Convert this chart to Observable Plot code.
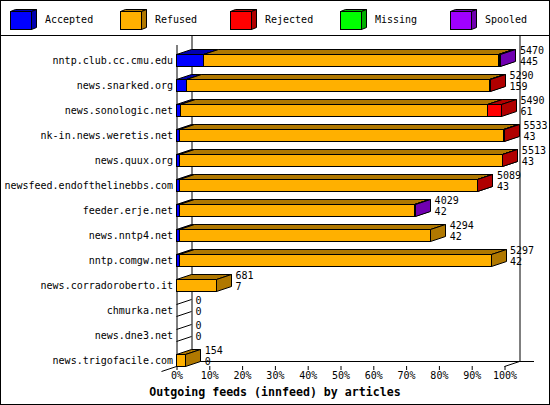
<!DOCTYPE html>
<html>
<head>
<meta charset="utf-8">
<script src="https://cdn.jsdelivr.net/npm/d3@7"></script>
<script src="https://cdn.jsdelivr.net/npm/@observablehq/plot@0.6"></script>
<style>
  html, body { margin: 0; padding: 0; background: white; }
  #frame { position: relative; width: 550px; height: 405px; box-sizing: border-box; border: 1px solid #000; background: #fff; font-family: "DejaVu Sans Mono", monospace; }
  #legend { position: relative; height: 34px; border-bottom: 1px solid #000; }
  .item { position: absolute; top: 0; height: 34px; }
  .item svg { position: absolute; left: 0; top: 5px; }
  .item span { position: absolute; left: 37px; top: 13px; font-size: 10px; line-height: 12px; color: #000; white-space: nowrap; }
  #chart svg { display: block; }
  #caption { height: 20px; line-height: 16px; text-align: center; font-weight: bold; font-size: 11.6px; color: #000; }
</style>
</head>
<body>
<div id="frame">
  <div id="legend"></div>
  <div id="chart"></div>
  <div id="caption"></div>
</div>
<script>
// ---- data ----
const hosts = [
  "nntp.club.cc.cmu.edu", "news.snarked.org", "news.sonologic.net", "nk-in.news.weretis.net",
  "news.quux.org", "newsfeed.endofthelinebbs.com", "feeder.erje.net", "news.nntp4.net",
  "nntp.comgw.net", "news.corradoroberto.it", "chmurka.net", "news.dne3.net", "news.trigofacile.com"
];
const statuses = ["Accepted", "Refused", "Rejected", "Missing", "Spooled"];
const frontColors = ["#0000ff", "#ffb000", "#ff0000", "#00ff00", "#a000ff"];
const darkColors  = ["#0000b0", "#b07800", "#b00000", "#00b000", "#7000b0"];

// percentages of offered articles
const accepted = [8.1, 3.0, 1.1, 0.8, 0.8, 0.8, 1.0, 1.0, 0.8, 0, 0, 0, 0];
const refused  = [90.1, 92.4, 93.7, 99.0, 98.5, 90.9, 71.7, 76.5, 95.1, 12.2, 0, 0, 2.8];
const rejected = [0.4, 0.3, 4.3, 0.2, 0.2, 0.2, 0, 0, 0, 0, 0, 0, 0];
const missing  = [0, 0, 0, 0, 0, 0, 0, 0, 0, 0, 0, 0, 0];
const spooled  = [0.3, 0, 0, 0, 0, 0, 0.2, 0, 0, 0, 0, 0, 0];

// article counts shown at bar ends
const offered       = [5470, 5290, 5490, 5533, 5513, 5089, 4029, 4294, 5297, 681, 0, 0, 154];
const acceptedCount = [445, 159, 61, 43, 43, 43, 42, 42, 42, 7, 0, 0, 0];

const xTicks = [0, 10, 20, 30, 40, 50, 60, 70, 80, 90, 100];
const title = "Outgoing feeds (innfeed) by articles";

// ---- derived tables ----
const series = [accepted, refused, rejected, missing, spooled];
const segs = [];
hosts.forEach((h, i) => statuses.forEach((s, k) => {
  if (series[k][i] > 0) segs.push({host: h, status: s, k, value: series[k][i]});
}));
const totals = hosts.map((h, i) => ({
  host: h, total: d3.sum(series, s => s[i]), offered: offered[i], accepted: acceptedCount[i]
}));

const DX = 15, DY = 5;
const half = v => Math.round(v - 0.5) + 0.5;
function bandwidthOf(y) {
  if (typeof y.bandwidth === "function") return y.bandwidth();
  if (typeof y.bandwidth === "number") return y.bandwidth;
  return (y(hosts[1]) - y(hosts[0])) * 0.48;
}

// ---- legend ----
const legend = d3.select("#legend");
statuses.forEach((s, k) => {
  const it = legend.append("div").attr("class", "item").style("left", (7 + 110 * k) + "px");
  const svg = it.append("svg").attr("width", 32).attr("height", 26);
  const x0 = 2.5, y0 = 5.5, w = 21, h = 18, dx = 5, dy = 2;
  svg.append("rect").attr("x", x0).attr("y", y0).attr("width", w).attr("height", h)
    .attr("fill", frontColors[k]).attr("stroke", "#000");
  svg.append("path").attr("d", `M${x0},${y0}L${x0+dx},${y0-dy}L${x0+w+dx},${y0-dy}L${x0+w},${y0}Z`)
    .attr("fill", darkColors[k]).attr("stroke", "#000");
  svg.append("path").attr("d", `M${x0+w},${y0}L${x0+w+dx},${y0-dy}L${x0+w+dx},${y0+h-dy}L${x0+w},${y0+h}Z`)
    .attr("fill", darkColors[k]).attr("stroke", "#000");
  it.append("span").text(s);
});

// ---- 3D bar renderer ----
function bars3d(index, scales, values) {
  const g = d3.create("svg:g");
  const bw = bandwidthOf(scales.y);
  for (const i of index) {
    const d = segs[i];
    const xa = half(values.x1[i]), xb = half(values.x2[i]);
    const yt = half(values.y[i]), yb = half(values.y[i] + bw);
    g.append("rect").attr("x", xa).attr("y", yt).attr("width", Math.max(0, xb - xa)).attr("height", yb - yt)
      .attr("fill", frontColors[d.k]).attr("stroke", "#000");
    g.append("path").attr("d", `M${xa},${yt}L${xa+DX},${yt-DY}L${xb+DX},${yt-DY}L${xb},${yt}Z`)
      .attr("fill", darkColors[d.k]).attr("stroke", "#000");
    g.append("path").attr("d", `M${xb},${yt}L${xb+DX},${yt-DY}L${xb+DX},${yb-DY}L${xb},${yb}Z`)
      .attr("fill", darkColors[d.k]).attr("stroke", "#000");
  }
  // empty rows: just the outline edges of a zero-length bar
  totals.forEach(t => {
    if (t.total > 0) return;
    const x0 = half(scales.x(0)), yt = half(scales.y(t.host)), yb = half(scales.y(t.host) + bw);
    g.append("path").attr("d", `M${x0},${yt}L${x0+DX},${yt-DY}M${x0},${yb}L${x0+DX},${yb-DY}`)
      .attr("fill", "none").attr("stroke", "#000");
  });
  return g.node();
}

// floor edges of the 3D box
function floor(index, scales, values, dims) {
  const x0 = scales.x(0), x1 = scales.x(100);
  const fy = dims.height - dims.marginBottom + 0.5;
  return d3.create("svg:path")
    .attr("d", `M${x0-DX},${fy+DY}L${x0+DX},${fy-DY}L${x1+2*DX-0.5},${fy-DY}M${x1},${fy}L${x1+DX},${fy-DY}`)
    .attr("fill", "none").attr("stroke", "#000").node();
}

const chart = Plot.plot({
  width: 548,
  height: 348,
  marginLeft: 175.5,
  marginRight: 44.5,
  marginTop: 5,
  marginBottom: 18,
  style: {fontFamily: "DejaVu Sans Mono", fontSize: "10px", color: "#000", background: "transparent", overflow: "visible"},
  x: {domain: [0, 100]},
  y: {domain: hosts, range: [11, 336], paddingInner: 0.52, paddingOuter: 0.26},
  color: {domain: statuses, range: frontColors},
  marks: [
    Plot.ruleX([0, 100], {dx: DX, dy: -DY, stroke: "#000"}),
    floor,
    Plot.ruleX([0], {insetTop: 4, stroke: "#000"}),
    Plot.barX(segs, {x: "value", y: "host", fill: "status", render: bars3d}),
    Plot.text(totals, {x: "total", y: "host", text: d => String(d.offered), dx: DX + 3.5, dy: -9.5, textAnchor: "start", fill: "#000"}),
    Plot.text(totals, {x: "total", y: "host", text: d => String(d.accepted), dx: DX + 3.5, dy: 1.5, textAnchor: "start", fill: "#000"}),
    Plot.axisY({tickSize: 0, tickPadding: 4, label: null}),
    Plot.axisX({ticks: xTicks, tickFormat: d => d + "%", tickSize: 4, tickPadding: 1, label: null})
  ]
});
document.getElementById("chart").appendChild(chart);
document.getElementById("caption").textContent = title;
</script>
</body>
</html>
